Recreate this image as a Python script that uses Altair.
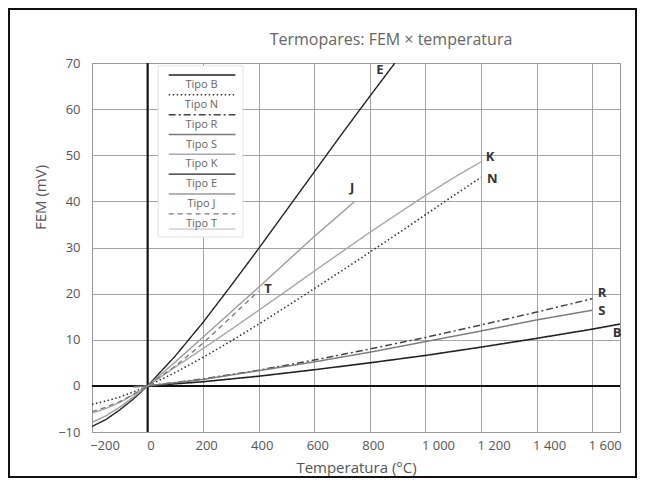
import altair as alt
import pandas as pd

# ---- data ----
types = ["B", "N", "R", "S", "K", "E", "J", "T"]
colors = ["#222222", "#333333", "#444444", "#7a7a7a", "#a8a8a8", "#222222", "#9a9a9a", "#777777"]
widths = [1.6, 1.3, 1.2, 1.5, 1.6, 1.6, 1.8, 1.3]
dashes = [[1, 0], [1.5, 2.5], [7, 3, 2, 3], [1, 0], [1, 0], [1, 0], [1, 0], [5, 4]]

E_t = [-200, -150, -100, -50, 0, 100, 200, 300, 400, 500, 600, 700, 800, 890]
E_v = [-8.8, -7.3, -5.2, -2.8, 0, 6.5, 13.8, 21.7, 29.8, 38.1, 46.4, 54.7, 62.8, 70.0]
J_t = [-200, -150, -100, -50, 0, 100, 200, 300, 400, 500, 600, 700, 745]
J_v = [-7.9, -6.5, -4.6, -2.4, 0, 5.2, 10.6, 16.0, 21.4, 26.9, 32.4, 37.6, 40.0]
K_t = [-200, -150, -100, -50, 0, 100, 200, 300, 400, 500, 600, 700, 800, 900, 1000, 1100, 1200]
K_v = [-5.9, -4.9, -3.6, -1.9, 0, 4.1, 8.1, 12.2, 16.4, 20.6, 24.9, 29.1, 33.3, 37.3, 41.3, 45.1, 48.6]
N_t = [-200, -150, -100, -50, 0, 100, 200, 300, 400, 500, 600, 700, 800, 900, 1000, 1100, 1200]
N_v = [-4.0, -3.3, -2.4, -1.3, 0, 2.9, 6.2, 9.7, 13.4, 17.2, 21.1, 25.0, 29.0, 33.0, 37.1, 41.2, 45.2]
T_t = [-200, -150, -100, -50, 0, 100, 200, 300, 400]
T_v = [-5.6, -4.6, -3.4, -1.8, 0, 4.3, 9.3, 14.9, 20.6]
R_t = [-50, 0, 200, 400, 600, 800, 1000, 1200, 1400, 1600]
R_v = [-0.2, 0, 1.5, 3.4, 5.6, 8.0, 10.5, 13.2, 16.0, 18.9]
S_t = [-50, 0, 200, 400, 600, 800, 1000, 1200, 1400, 1600]
S_v = [-0.2, 0, 1.4, 3.3, 5.2, 7.3, 9.6, 11.9, 14.3, 16.4]
B_t = [0, 200, 400, 600, 800, 1000, 1200, 1400, 1600, 1700]
B_v = [0, 0.9, 2.1, 3.5, 5.0, 6.6, 8.4, 10.3, 12.3, 13.4]

# curve-end letters (positions in data units)
lab_t = [1690, 1240, 1635, 1635, 1232, 836, 736, 433]
lab_v = [11.5, 44.9, 20.2, 16.3, 49.6, 68.5, 42.9, 21.0]

title_text = "Termopares: FEM × temperatura"
x_ticks = list(range(-200, 1701, 100))
y_ticks = list(range(-10, 71, 5))

series = {"B": (B_t, B_v), "N": (N_t, N_v), "R": (R_t, R_v), "S": (S_t, S_v),
          "K": (K_t, K_v), "E": (E_t, E_v), "J": (J_t, J_v), "T": (T_t, T_v)}

rows = []
for k, (ts, vs) in series.items():
    for i, (t, v) in enumerate(zip(ts, vs)):
        rows.append({"tipo": k, "t": t, "v": v, "o": i})
df = pd.DataFrame(rows)
df_lab = pd.DataFrame({"tipo": types, "t": lab_t, "v": lab_v})

# legend layout (in data units)
leg_x1, leg_x2, leg_xc = 76, 316, 194
leg_top, leg_step = 67.4, 4.3
df_leg = pd.DataFrame({
    "tipo": types,
    "label": ["Tipo " + t for t in types],
    "x1": [leg_x1] * 8, "x2": [leg_x2] * 8, "xc": [leg_xc] * 8,
    "yl": [leg_top - i * leg_step for i in range(8)],
    "yt": [leg_top - 2.2 - i * leg_step for i in range(8)],
})
df_box = pd.DataFrame({"x1": [38], "x2": [343], "y1": [32.3], "y2": [69.4]})
df_bot = pd.DataFrame({"x1": [leg_x1], "x2": [leg_x2], "y": [leg_top - 8 * leg_step + 1.0]})

FONT = "Open Sans"
xs = alt.Scale(domain=[-200, 1700], nice=False, zero=False)
ys = alt.Scale(domain=[-10, 70], nice=False, zero=False)
col = alt.Scale(domain=types, range=colors)
dsh = alt.Scale(domain=types, range=dashes)
wid = alt.Scale(domain=types, range=widths)

label_expr = ("datum.value % 200 == 0 && datum.value <= 1600 ? "
              "replace(format(datum.value, ','), ',', ' ') : ''")

x_axis = alt.Axis(values=x_ticks, labelExpr=label_expr, title="Temperatura (°C)",
                  grid=True, ticks=False, domain=False, labelPadding=7, titlePadding=8,
                  labelFlush=False, labelOverlap=False,
                  labelOffset={"condition": {"test": "datum.value <= -200 || datum.value >= 1000",
                                             "value": 12.5}, "value": 3})
y_axis = alt.Axis(values=y_ticks, title="FEM (mV)", grid=True, ticks=False, domain=False,
                  labelPadding=12, titleX=-44, titleY=134, labelOverlap=False)

box = alt.Chart(df_box).mark_rect(fill="white", stroke="#d0d0d0", strokeWidth=0.6).encode(
    x=alt.X("x1:Q", scale=xs, axis=x_axis), x2="x2:Q",
    y=alt.Y("y1:Q", scale=ys, axis=y_axis), y2="y2:Q")

zero_v = alt.Chart(pd.DataFrame({"t": [0]})).mark_rule(color="#111", strokeWidth=2).encode(
    x=alt.X("t:Q", scale=xs))
zero_h = alt.Chart(pd.DataFrame({"v": [0]})).mark_rule(color="#111", strokeWidth=2).encode(
    y=alt.Y("v:Q", scale=ys))

lines = alt.Chart(df).mark_line(clip=True).encode(
    x=alt.X("t:Q", scale=xs),
    y=alt.Y("v:Q", scale=ys),
    color=alt.Color("tipo:N", scale=col, legend=None),
    strokeDash=alt.StrokeDash("tipo:N", scale=dsh, legend=None),
    strokeWidth=alt.StrokeWidth("tipo:N", scale=wid, legend=None),
    order="o:Q",
    detail="tipo:N",
)

end_labels = alt.Chart(df_lab).mark_text(font=FONT, fontSize=13, color="#333",
                                         fontWeight="bold").encode(
    x=alt.X("t:Q", scale=xs), y=alt.Y("v:Q", scale=ys), text="tipo:N")

leg_lines = alt.Chart(df_leg).mark_rule().encode(
    x=alt.X("x1:Q", scale=xs), x2="x2:Q", y=alt.Y("yl:Q", scale=ys),
    color=alt.Color("tipo:N", scale=col, legend=None),
    strokeDash=alt.StrokeDash("tipo:N", scale=dsh, legend=None),
    strokeWidth=alt.StrokeWidth("tipo:N", scale=wid, legend=None),
)
leg_bot = alt.Chart(df_bot).mark_rule(color="#bbbbbb", strokeWidth=1).encode(
    x=alt.X("x1:Q", scale=xs), x2="x2:Q", y=alt.Y("y:Q", scale=ys))
leg_text = alt.Chart(df_leg).mark_text(font=FONT, fontSize=11, color="#666").encode(
    x=alt.X("xc:Q", scale=xs), y=alt.Y("yt:Q", scale=ys), text="label:N")

title_mark = alt.Chart(pd.DataFrame({"txt": [title_text]})).mark_text(
    font=FONT, fontSize=16, color="#666", align="center", baseline="middle").encode(
    x=alt.value(299), y=alt.value(-23), text="txt:N")

frame = alt.Chart(pd.DataFrame({"a": [0]})).mark_rect(
    fill="transparent", stroke="#111", strokeWidth=2).encode(
    x=alt.value(-83), x2=alt.value(544), y=alt.value(-54), y2=alt.value(414))

chart = alt.layer(box, zero_v, zero_h, lines, end_labels, leg_lines, leg_bot, leg_text,
                  title_mark, frame).properties(
    width=528, height=369,
    autosize=alt.AutoSizeParams(type="none"),
    padding={"left": 84, "top": 55, "right": 17, "bottom": 46},
).configure_view(stroke="#999", strokeWidth=1).configure_axis(
    gridColor="#9a9a9a", gridWidth=0.9, gridOpacity=1,
    labelFont=FONT, labelFontSize=13, labelColor="#555",
    titleFont=FONT, titleFontSize=15, titleColor="#555", titleFontWeight="normal",
)

chart.save("out.html", embed_options={"renderer": "svg", "actions": False})
